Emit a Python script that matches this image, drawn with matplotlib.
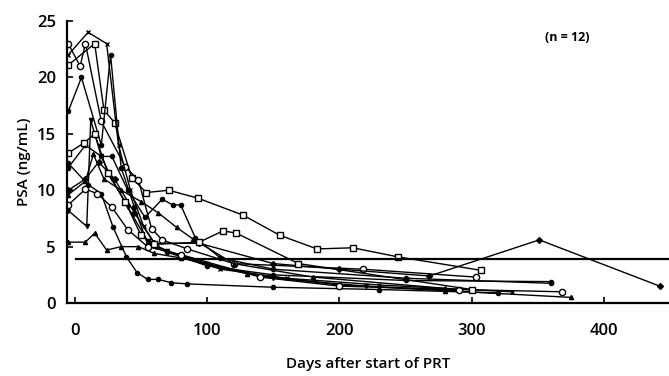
import matplotlib
matplotlib.use("Agg")
import matplotlib.pyplot as plt

plt.rcParams['font.family'] = ['Open Sans', 'DejaVu Sans']

# patient curves: days after start of PRT, PSA (ng/mL)
p1_days = [-5, 15, 22, 30, 43, 54, 71, 93, 127, 155, 183, 210, 244, 307]
p1_psa = [21.1, 23, 17.1, 16, 11.1, 9.8, 10.0, 9.3, 7.8, 6.0, 4.8, 4.9, 4.1, 2.9]

p2_days = [-5, 4, 8, 20, 38, 48, 58, 66, 85, 120, 218, 303]
p2_psa = [23, 21, 23, 16.1, 12.1, 10.9, 6.6, 5.6, 4.8, 3.5, 3.0, 2.3]

p3_days = [-5, 10, 24, 33, 42, 52, 62, 80, 110, 160, 230, 330]
p3_psa = [22, 24, 23, 14, 10, 6.8, 5.0, 4.2, 3.0, 2.2, 1.6, 1.0]

p4_days = [-5, 5, 20, 27, 35, 45, 55, 70, 100, 150, 250, 360]
p4_psa = [17, 20, 14, 22, 12, 8.5, 5.2, 4.5, 3.3, 2.5, 2.0, 1.9]

p5_days = [-5, 10, 20, 29, 39, 47, 55, 63, 73, 85, 150, 230, 320]
p5_psa = [12.4, 10.5, 9.7, 6.7, 4.1, 2.7, 2.1, 2.1, 1.8, 1.7, 1.4, 1.2, 0.9]

p6_days = [-5, 8, 15, 24, 35, 48, 60, 80, 130, 200, 280, 375]
p6_psa = [5.4, 5.4, 6.2, 4.7, 5.0, 5.0, 4.4, 4.0, 2.6, 1.6, 1.1, 0.5]

p7_days = [-5, 8, 18, 30, 45, 60, 94, 150, 200, 268, 351, 442]
p7_psa = [10, 11, 12.5, 11, 8, 5.3, 5.3, 3.5, 3.0, 2.4, 5.6, 1.5]

p8_days = [-5, 8, 20, 28, 40, 53, 66, 74, 80, 91, 110, 150, 250, 360]
p8_psa = [12, 14, 13, 13, 10, 7.6, 9.2, 8.7, 8.7, 5.8, 4.0, 3.0, 2.2, 1.75]

p9_days = [-5, 9, 12, 20, 28, 40, 55, 70, 100, 150, 220, 290]
p9_psa = [8.2, 6.8, 16.2, 13, 11, 8.5, 5.5, 4.6, 3.5, 2.2, 1.5, 1.1]

p10_days = [-5, 8, 17, 28, 40, 55, 80, 140, 200, 290, 368]
p10_psa = [8.7, 10.1, 9.7, 8.5, 6.5, 5.0, 4.3, 2.3, 1.5, 1.2, 1.0]

p11_days = [-5, 8, 14, 22, 35, 50, 63, 77, 89, 120, 180, 280]
p11_psa = [9.6, 10.8, 13.2, 11, 10, 9, 8.0, 6.7, 5.7, 3.5, 2.3, 1.3]

p12_days = [-5, 7, 15, 25, 38, 50, 60, 94, 112, 122, 169, 300]
p12_psa = [13.3, 14.2, 15.0, 11.5, 9, 6, 5.2, 5.4, 6.4, 6.2, 3.5, 1.2]

patients = [
    (p1_days, p1_psa, 's', 'white'),
    (p2_days, p2_psa, 'o', 'white'),
    (p3_days, p3_psa, 'x', 'black'),
    (p4_days, p4_psa, 'o', 'black'),
    (p5_days, p5_psa, 'o', 'black'),
    (p6_days, p6_psa, '^', 'black'),
    (p7_days, p7_psa, 'D', 'black'),
    (p8_days, p8_psa, 'o', 'black'),
    (p9_days, p9_psa, 'v', 'black'),
    (p10_days, p10_psa, 'o', 'white'),
    (p11_days, p11_psa, '^', 'black'),
    (p12_days, p12_psa, 's', 'white'),
]

ref_level = 3.9
ref_days = [1, 449]

fig = plt.figure(figsize=(6.69, 3.76), dpi=100)
ax = fig.add_axes([0.100, 0.194, 0.900, 0.750])

for days, psa, mk, face in patients:
    ms = 4.5 if face == 'white' else 3
    ax.plot(days, psa, '-', color='black', lw=1.0, marker=mk, ms=ms,
            mfc=face, mec='black', mew=1.0)

ax.plot(ref_days, [ref_level, ref_level], '-', color='black', lw=1.6)

ax.set_xlim(-6, 449)
ax.set_ylim(0, 25)
ax.set_xticks([0, 100, 200, 300, 400])
ax.set_yticks([0, 5, 10, 15, 20, 25])
ax.spines['top'].set_visible(False)
ax.spines['right'].set_visible(False)
ax.spines['left'].set_linewidth(1.6)
ax.spines['bottom'].set_linewidth(1.6)
ax.tick_params(direction='in', length=4, width=1.2, labelsize=12)
ax.tick_params(axis='x', pad=14)
ax.tick_params(axis='y', pad=8)
for lab in ax.get_xticklabels() + ax.get_yticklabels():
    lab.set_fontweight('semibold')

ax.set_xlabel('Days after start of PRT', fontsize=11, fontweight='semibold', labelpad=13)
ax.set_ylabel('PSA (ng/mL)', fontsize=11, fontweight='semibold', labelpad=4)
ax.text(0.848, 0.90, '(n = 12)', transform=fig.transFigure, ha='center',
        va='center', fontsize=9, fontweight='bold')

fig.savefig('out.png', dpi=100)
